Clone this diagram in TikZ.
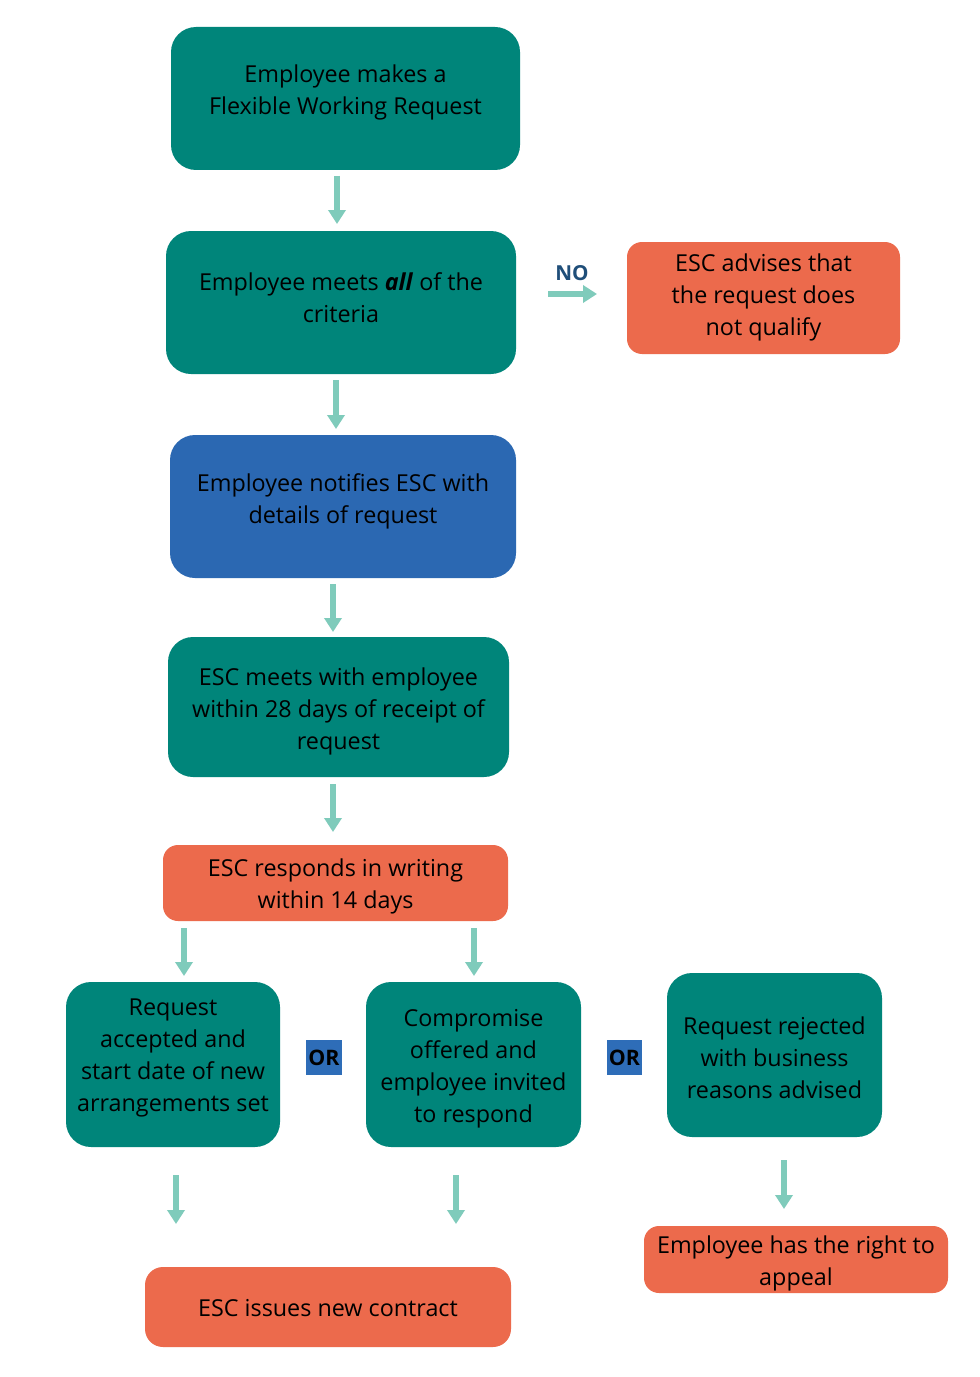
\documentclass[tikz,border=0pt]{standalone}
\usepackage{fontspec}
\setmainfont{Open Sans}
\usetikzlibrary{arrows.meta}
\newlength\px
\setlength\px{0.75pt}
\definecolor{tealbox}{HTML}{00857A}
\definecolor{orangebox}{HTML}{EC6A4C}
\definecolor{bluebox}{HTML}{2B68B2}
\definecolor{orbox}{HTML}{2E6DB8}
\definecolor{arrowc}{HTML}{7FCBBB}
\definecolor{nocol}{HTML}{1F4E79}
\tikzset{
  boxtext/.style={font=\fontsize{17.5}{24}\selectfont, text=black, align=center, inner sep=0pt},
  tealnode/.style={fill=tealbox, rounded corners=25\px, inner sep=0pt},
  orangenode/.style={fill=orangebox, rounded corners=15\px, inner sep=0pt},
  bluenode/.style={fill=bluebox, rounded corners=25\px, inner sep=0pt},
  ornode/.style={fill=orbox, font=\fontsize{16}{18}\selectfont\bfseries, text=black, inner sep=0pt},
  flowarrow/.style={draw=arrowc, line width=4.5pt, -{Triangle[width=12.75pt,length=10.5pt]}, arrowc},
}
\begin{document}
\begin{tikzpicture}[x=0.75pt,y=-0.75pt]
\useasboundingbox (0,0) rectangle (980,1377);
\fill[white] (0,0) rectangle (980,1377);

\node[tealnode, minimum width=349\px, minimum height=143\px,
  label={[boxtext, yshift=6\px]center:{Employee makes a\\Flexible Working Request}}] (b1) at (345.5,98.5) {};
\node[tealnode, minimum width=350\px, minimum height=143\px,
  label={[boxtext, yshift=4.5\px]center:{Employee meets \textbf{\textit{all}} of the\\criteria}}] (b2) at (341,302.5) {};
\node[orangenode, minimum width=273\px, minimum height=112\px,
  label={[boxtext, yshift=1\px]center:{ESC advises that\\the request does\\not qualify}}] (bno) at (763.5,298) {};
\node[bluenode, minimum width=346\px, minimum height=143\px,
  label={[boxtext, yshift=5.5\px]center:{Employee notifies ESC with\\details of request}}] (b3) at (343,506.5) {};
\node[tealnode, minimum width=341\px, minimum height=140\px,
  label={[boxtext, yshift=-4\px]center:{ESC meets with employee\\within 28 days of receipt of\\request}}] (b4) at (338.5,707) {};
\node[orangenode, minimum width=345\px, minimum height=76\px,
  label={[boxtext, yshift=-3\px]center:{ESC responds in writing\\within 14 days}}] (b5) at (335.5,883) {};
\node[tealnode, minimum width=214\px, minimum height=165\px,
  label={[boxtext, yshift=6.5\px]center:{Request\\accepted and\\start date of new\\arrangements set}}] (b6) at (173,1064.5) {};
\node[ornode, minimum width=36\px, minimum height=35\px] (or1) at (324,1057.5) {OR};
\node[tealnode, minimum width=215\px, minimum height=165\px,
  label={[boxtext, yshift=-4\px]center:{Compromise\\offered and\\employee invited\\to respond}}] (b7) at (473.5,1064.5) {};
\node[ornode, minimum width=35\px, minimum height=35\px] (or2) at (624.5,1057.5) {OR};
\node[tealnode, minimum width=215\px, minimum height=164\px,
  label={[boxtext, yshift=-2.5\px]center:{Request rejected\\with business\\reasons advised}}] (b8) at (774.5,1055) {};
\node[orangenode, minimum width=304\px, minimum height=67\px,
  label={[boxtext, yshift=-4\px]center:{Employee has the right to\\appeal}}] (b9) at (796,1259.5) {};
\node[orangenode, minimum width=366\px, minimum height=80\px, rounded corners=18\px,
  label={[boxtext, yshift=-1\px]center:{ESC issues new contract}}] (b10) at (328,1307) {};

\node[font=\fontsize{15.5}{18}\selectfont\bfseries, text=nocol, inner sep=0pt] (nolabel) at (572,273) {NO};

% arrow end points
\coordinate (a1s) at (337,176);  \coordinate (a1e) at (337,224);
\coordinate (a2s) at (336,380);  \coordinate (a2e) at (336,429);
\coordinate (a3s) at (333,584);  \coordinate (a3e) at (333,632);
\coordinate (a4s) at (333,784);  \coordinate (a4e) at (333,832);
\coordinate (a5s) at (184,928);  \coordinate (a5e) at (184,976);
\coordinate (a6s) at (474,928);  \coordinate (a6e) at (474,976);
\coordinate (a7s) at (176,1175); \coordinate (a7e) at (176,1224);
\coordinate (a8s) at (456,1175); \coordinate (a8e) at (456,1224);
\coordinate (a9s) at (784,1160); \coordinate (a9e) at (784,1209);
\coordinate (ans) at (548,294);  \coordinate (ane) at (597,294);

\draw[flowarrow] (a1s) -- (a1e);
\draw[flowarrow] (a2s) -- (a2e);
\draw[flowarrow] (a3s) -- (a3e);
\draw[flowarrow] (a4s) -- (a4e);
\draw[flowarrow] (a5s) -- (a5e);
\draw[flowarrow] (a6s) -- (a6e);
\draw[flowarrow] (a7s) -- (a7e);
\draw[flowarrow] (a8s) -- (a8e);
\draw[flowarrow] (a9s) -- (a9e);
\draw[flowarrow] (ans) -- (ane);
\end{tikzpicture}
\end{document}
